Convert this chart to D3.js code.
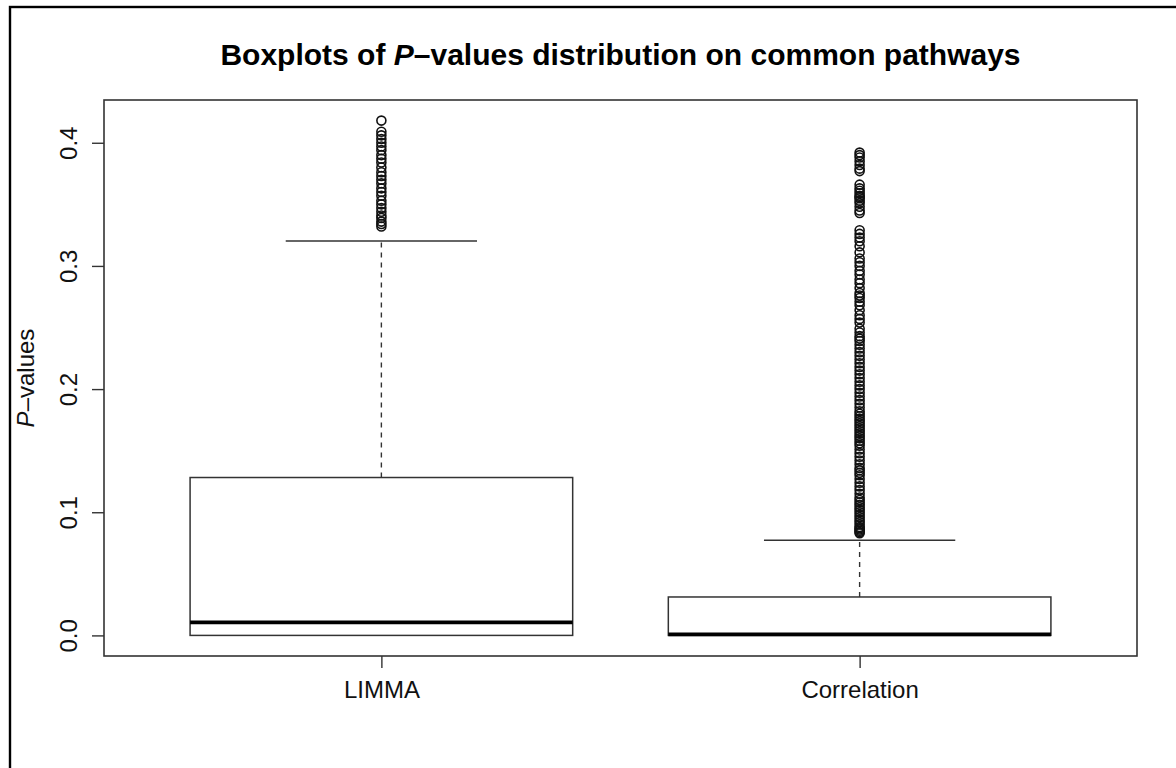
<!DOCTYPE html>
<html>
<head>
<meta charset="utf-8">
<script src="https://cdn.jsdelivr.net/npm/d3@7"></script>
<style>
  html, body { margin: 0; padding: 0; background: #fff; }
  svg { display: block; font-family: "Liberation Sans", Arial, Helvetica, sans-serif; }
</style>
</head>
<body>
<svg id="chart" width="1176" height="768"></svg>
<script>
// ---------------- data ----------------
const categories = ["LIMMA", "Correlation"];
const q1Values      = [0.0,    0.0];
const medianValues  = [0.0106, 0.0008];
const q3Values      = [0.1282, 0.0312];
const lowerWhiskers = [0.0,    0.0];
const upperWhiskers = [0.3203, 0.0772];
const limmaOutliers = [0.418, 0.409, 0.406, 0.403, 0.400, 0.397, 0.394, 0.390, 0.387, 0.384,
  0.380, 0.376, 0.373, 0.370, 0.367, 0.363, 0.360, 0.357, 0.353, 0.350, 0.347, 0.344,
  0.341, 0.339, 0.336, 0.334, 0.332];
const correlationOutliers = [0.392, 0.390, 0.388, 0.385, 0.382, 0.379, 0.377,
  0.366, 0.363, 0.361, 0.359, 0.357, 0.356, 0.355, 0.353, 0.351, 0.348, 0.345, 0.343,
  0.329, 0.326, 0.323, 0.320, 0.316, 0.311, 0.306, 0.303, 0.300, 0.296, 0.293, 0.289,
  0.286, 0.282, 0.278, 0.276, 0.274, 0.271, 0.268, 0.264, 0.260, 0.257, 0.254,
  0.249, 0.246, 0.243, 0.241, 0.239, 0.236, 0.233, 0.230, 0.227, 0.224, 0.221, 0.218,
  0.215, 0.212, 0.209, 0.206, 0.203, 0.200, 0.197, 0.194, 0.191, 0.188, 0.185, 0.182,
  0.180, 0.178, 0.176, 0.174, 0.172, 0.170, 0.168, 0.166, 0.164, 0.162, 0.160, 0.158,
  0.156, 0.154, 0.151, 0.148, 0.145, 0.142, 0.139, 0.136, 0.134, 0.132, 0.130, 0.127,
  0.124, 0.121, 0.118, 0.115, 0.112, 0.110, 0.108, 0.106, 0.104, 0.102, 0.100, 0.098,
  0.096, 0.094, 0.092, 0.090, 0.088, 0.087, 0.086, 0.085, 0.084, 0.083];
const outlierSets = [limmaOutliers, correlationOutliers];
const yTickValues = [0.0, 0.1, 0.2, 0.3, 0.4];
const yTickLabels = ["0.0", "0.1", "0.2", "0.3", "0.4"];

// ---------------- layout ----------------
const svg = d3.select("#chart");
const plot = { left: 104, right: 1137, top: 100, bottom: 656 };
const ink = "#111";

// outer frame (only left/top edges fall inside the picture)
svg.append("rect")
  .attr("x", 10).attr("y", 7).attr("width", 1300).attr("height", 900)
  .attr("fill", "none").attr("stroke", "#000").attr("stroke-width", 2.4);

// scales (R-style 4% range expansion)
const allVals = [].concat(q1Values, q3Values, upperWhiskers, lowerWhiskers, ...outlierSets);
const yMin = d3.min(allVals), yMax = d3.max(allVals);
const pad = (yMax - yMin) * 0.04;
const y = d3.scaleLinear().domain([yMin - pad, yMax + pad]).range([plot.bottom, plot.top]);
const xIdx = d3.scaleLinear().domain([0.5 - 0.08, categories.length + 0.5 + 0.08])
  .range([plot.left, plot.right]);
const xc = i => xIdx(i + 1);
const boxHalf = (xIdx(1.4) - xIdx(1));
const capHalf = boxHalf / 2;

// plot frame
svg.append("rect")
  .attr("x", plot.left).attr("y", plot.top)
  .attr("width", plot.right - plot.left).attr("height", plot.bottom - plot.top)
  .attr("fill", "none").attr("stroke", "#333").attr("stroke-width", 1.6);

// boxes
const g = svg.append("g");
categories.forEach((c, i) => {
  const cx = xc(i);
  g.append("line").attr("x1", cx).attr("x2", cx)
    .attr("y1", y(q3Values[i])).attr("y2", y(upperWhiskers[i]))
    .attr("stroke", "#333").attr("stroke-width", 1.4).attr("stroke-dasharray", "5,5");
  g.append("line").attr("x1", cx - capHalf).attr("x2", cx + capHalf)
    .attr("y1", y(upperWhiskers[i])).attr("y2", y(upperWhiskers[i]))
    .attr("stroke", "#333").attr("stroke-width", 1.5);
  g.append("rect").attr("x", cx - boxHalf).attr("y", y(q3Values[i]))
    .attr("width", boxHalf * 2).attr("height", y(q1Values[i]) - y(q3Values[i]))
    .attr("fill", "#fff").attr("stroke", "#333").attr("stroke-width", 1.5);
  g.append("line").attr("x1", cx - boxHalf).attr("x2", cx + boxHalf)
    .attr("y1", y(medianValues[i])).attr("y2", y(medianValues[i]))
    .attr("stroke", "#000").attr("stroke-width", 3.8);
  g.selectAll(null).data(outlierSets[i]).enter().append("circle")
    .attr("cx", cx).attr("cy", d => y(d)).attr("r", 4.5)
    .attr("fill", "none").attr("stroke", "#111").attr("stroke-width", 1.6);
});

// y axis
const yAxis = d3.axisLeft(y).tickValues(yTickValues).tickSize(12)
  .tickFormat((d, i) => yTickLabels[i]);
const ya = svg.append("g").attr("transform", `translate(${plot.left},0)`).call(yAxis);
ya.select(".domain").remove();
ya.selectAll(".tick line").attr("stroke", "#333").attr("stroke-width", 1.4);
ya.selectAll(".tick text")
  .attr("transform", "rotate(-90)").attr("x", 0).attr("y", -27).attr("dy", 0)
  .attr("text-anchor", "middle").attr("font-size", 24).attr("fill", ink)
  .style("font-family", "'Liberation Sans', Arial, sans-serif");

// x axis
const xBand = d3.scaleOrdinal().domain(categories).range(categories.map((c, i) => xc(i)));
const xAxis = d3.axisBottom(xBand).tickSize(12).tickPadding(18);
const xa = svg.append("g").attr("transform", `translate(0,${plot.bottom})`).call(xAxis);
xa.select(".domain").remove();
xa.selectAll(".tick line").attr("stroke", "#333").attr("stroke-width", 1.4);
xa.selectAll(".tick text").attr("font-size", 24).attr("fill", ink)
  .attr("dy", 0).attr("y", 42)
  .style("font-family", "'Liberation Sans', Arial, sans-serif");

// y label
const yl = svg.append("text")
  .attr("transform", `translate(34,${(plot.top + plot.bottom) / 2}) rotate(-90)`)
  .attr("text-anchor", "middle").attr("font-size", 24).attr("fill", ink);
yl.append("tspan").attr("font-style", "italic").text("P");
yl.append("tspan").text("\u2013values");

// title
const t = svg.append("text")
  .attr("x", (plot.left + plot.right) / 2).attr("y", 65)
  .attr("text-anchor", "middle").attr("font-size", 30).attr("font-weight", "bold").attr("fill", "#000");
t.append("tspan").text("Boxplots of ");
t.append("tspan").attr("font-style", "italic").text("P");
t.append("tspan").text("\u2013values distribution on common pathways");
</script>
</body>
</html>
